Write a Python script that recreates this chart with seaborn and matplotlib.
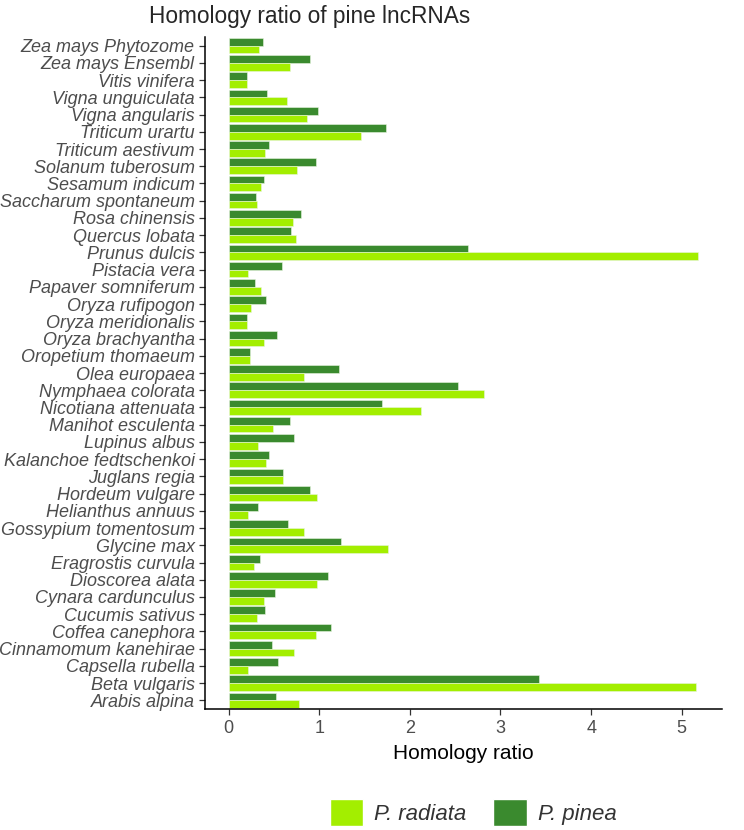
import matplotlib
matplotlib.use("Agg")
import matplotlib.pyplot as plt
from matplotlib.patches import Patch
import seaborn as sns
import pandas as pd

# species, top to bottom as drawn
species = [
    "Zea mays Phytozome", "Zea mays Ensembl", "Vitis vinifera", "Vigna unguiculata",
    "Vigna angularis", "Triticum urartu", "Triticum aestivum", "Solanum tuberosum",
    "Sesamum indicum", "Saccharum spontaneum", "Rosa chinensis", "Quercus lobata",
    "Prunus dulcis", "Pistacia vera", "Papaver somniferum", "Oryza rufipogon",
    "Oryza meridionalis", "Oryza brachyantha", "Oropetium thomaeum", "Olea europaea",
    "Nymphaea colorata", "Nicotiana attenuata", "Manihot esculenta", "Lupinus albus",
    "Kalanchoe fedtschenkoi", "Juglans regia", "Hordeum vulgare", "Helianthus annuus",
    "Gossypium tomentosum", "Glycine max", "Eragrostis curvula", "Dioscorea alata",
    "Cynara cardunculus", "Cucumis sativus", "Coffea canephora", "Cinnamomum kanehirae",
    "Capsella rubella", "Beta vulgaris", "Arabis alpina",
]

pinea = [
    0.375, 0.90, 0.20, 0.42, 0.99, 1.74, 0.445, 0.96, 0.39, 0.305, 0.80, 0.69,
    2.64, 0.585, 0.294, 0.408, 0.206, 0.54, 0.239, 1.213, 2.526, 1.688, 0.676,
    0.717, 0.445, 0.60, 0.897, 0.33, 0.658, 1.239, 0.346, 1.096, 0.51, 0.404,
    1.129, 0.48, 0.548, 3.43, 0.522,
]

radiata = [
    0.335, 0.68, 0.20, 0.64, 0.87, 1.46, 0.40, 0.75, 0.36, 0.316, 0.71, 0.74,
    5.18, 0.217, 0.357, 0.246, 0.206, 0.39, 0.239, 0.83, 2.82, 2.125, 0.485,
    0.327, 0.415, 0.60, 0.98, 0.217, 0.827, 1.754, 0.276, 0.98, 0.393, 0.316,
    0.963, 0.72, 0.217, 5.16, 0.779,
]

c_radiata = "#a3ee00"
c_pinea = "#3a8a2e"

df = pd.concat([
    pd.DataFrame({"species": species, "ratio": pinea, "pine": "P. pinea"}),
    pd.DataFrame({"species": species, "ratio": radiata, "pine": "P. radiata"}),
])

sns.set_style("white")
plt.rcParams["font.family"] = ["Liberation Sans", "DejaVu Sans"]

fig = plt.figure(figsize=(7.44, 8.3), dpi=100)
ax = fig.add_axes([0.2755, 0.1458, 0.6945, 0.8096])

sns.barplot(data=df, x="ratio", y="species", hue="pine", order=species,
            hue_order=["P. pinea", "P. radiata"],
            palette={"P. pinea": c_pinea, "P. radiata": c_radiata},
            orient="h", width=0.9, gap=0, saturation=1,
            edgecolor="#e8f5e0", linewidth=0.4, ax=ax, legend=False)

ax.set_xlim(-0.26, 5.44)
ax.set_ylim(len(species) - 0.5, -0.5)
ax.set_xticks([0, 1, 2, 3, 4, 5])
ax.set_xlabel("Homology ratio", fontsize=15, color="black", labelpad=5)
ax.set_ylabel("")
fig.text(310 / 744, 1 - 16 / 830, "Homology ratio of pine lncRNAs",
         fontsize=16.3, ha="center", va="center")

for s in ["top", "right"]:
    ax.spines[s].set_visible(False)
for s in ["left", "bottom"]:
    ax.spines[s].set_color("black")
    ax.spines[s].set_linewidth(1.1)

ax.tick_params(axis="both", direction="out", length=4, width=0.9, color="#333333",
               labelcolor="#4d4d4d", labelsize=13, left=True, bottom=True)
ax.tick_params(axis="x", pad=4)
for lab in ax.get_yticklabels():
    lab.set_fontstyle("italic")

handles = [Patch(facecolor=c_radiata, edgecolor="white", label="P. radiata"),
           Patch(facecolor=c_pinea, edgecolor="white", label="P. pinea")]
leg = fig.legend(handles=handles, loc="center", bbox_to_anchor=(0.636, 0.021), ncol=2,
                 frameon=False, prop={"size": 16, "style": "italic"},
                 handlelength=1.5, handleheight=1.5, handletextpad=0.5, columnspacing=1.2)
for t in leg.get_texts():
    t.set_color("#333333")

fig.savefig("out.png", dpi=100)
